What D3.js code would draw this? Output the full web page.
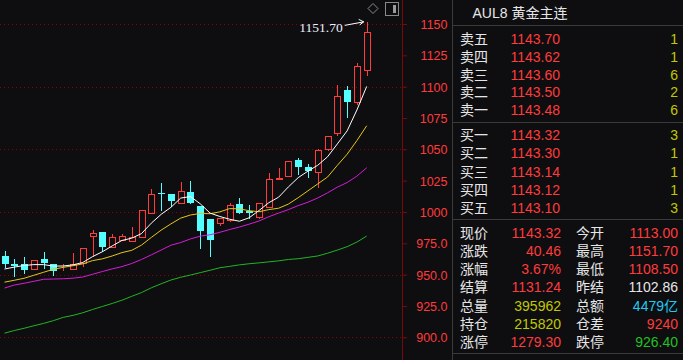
<!DOCTYPE html>
<html><head><meta charset="utf-8">
<script src="https://cdn.jsdelivr.net/npm/d3@7"></script>
<style>
html,body{margin:0;padding:0;background:#0e0e11;overflow:hidden}
svg{display:block}
</style></head><body>
<svg id="c" width="683" height="360"></svg>
<script>
// ---------- data ----------
const opens  = [964.9, 958.5, 958.5, 954.3, 962.5, 958.5, 956.5, 954.3, 959.0, 980.6, 984.0, 972.3, 977.6, 977.1, 979.8, 999.4, 1015.0, 1014.3, 1006.9, 1015.9, 1004.8, 994.4, 991.0, 993.6, 1006.4, 1000.8, 996.2, 1004.2, 1026.3, 1028.9, 1041.5, 1036.1, 1032.1, 1050.0, 1063.3, 1097.3, 1087.5, 1113.0];
const highs  = [968.6, 962.5, 963.8, 961.6, 968.1, 958.6, 958.8, 967.0, 971.0, 985.6, 984.0, 982.2, 982.2, 987.8, 1001.3, 1018.3, 1023.1, 1014.3, 1023.9, 1024.7, 1004.8, 994.4, 995.2, 1007.4, 1011.4, 1005.6, 1006.9, 1031.3, 1034.8, 1040.7, 1043.1, 1038.3, 1050.3, 1060.6, 1101.3, 1100.5, 1119.1, 1151.7];
const lows   = [955.0, 948.3, 950.3, 954.3, 954.5, 949.1, 952.9, 954.3, 956.3, 964.3, 968.3, 972.3, 977.4, 975.8, 979.0, 999.0, 1000.8, 1004.2, 1006.9, 1006.4, 970.4, 964.3, 988.8, 992.2, 998.4, 994.1, 994.4, 1004.2, 1026.0, 1028.9, 1029.5, 1027.3, 1019.4, 1048.9, 1060.6, 1074.8, 1085.4, 1108.5];
const closes = [958.5, 956.9, 953.7, 961.4, 959.5, 952.7, 957.2, 958.2, 971.0, 983.0, 972.3, 979.8, 980.6, 979.8, 1001.3, 1014.1, 1014.3, 1009.0, 1016.5, 1007.4, 985.1, 977.6, 995.2, 1005.6, 999.4, 999.0, 1006.9, 1026.1, 1027.4, 1040.7, 1036.1, 1032.9, 1049.5, 1060.6, 1092.5, 1088.0, 1116.5, 1143.32];

const ma5  = [954.5, 956.0, 957.3, 958.0, 958.0, 956.8, 956.9, 957.8, 959.7, 964.4, 968.3, 972.9, 977.3, 979.1, 982.8, 991.1, 998.1, 1003.7, 1011.1, 1012.3, 1006.5, 999.1, 996.4, 994.2, 992.6, 995.4, 1001.2, 1007.4, 1011.8, 1020.0, 1027.4, 1032.6, 1037.3, 1044.0, 1054.3, 1064.7, 1081.4, 1100.2];
const ma10 = [944.0, 945.5, 947.1, 949.5, 951.9, 954.3, 955.8, 957.1, 958.6, 961.2, 962.6, 964.9, 967.6, 969.4, 973.6, 979.7, 985.5, 990.5, 995.1, 997.6, 998.8, 998.6, 1000.1, 1002.7, 1002.5, 1001.0, 1000.2, 1001.9, 1003.0, 1006.3, 1011.4, 1016.9, 1022.4, 1027.9, 1037.2, 1046.1, 1057.0, 1068.8];
const ma20 = [939.3, 941.7, 943.1, 944.7, 946.3, 946.5, 946.7, 947.2, 948.1, 950.3, 952.5, 954.6, 956.4, 958.9, 962.1, 965.8, 969.6, 973.5, 975.6, 978.5, 980.7, 981.8, 983.8, 986.0, 988.0, 990.3, 992.8, 996.2, 999.1, 1001.9, 1005.1, 1007.8, 1011.2, 1015.3, 1019.8, 1023.5, 1028.6, 1035.3];
const ma60 = [903.3, 905.4, 907.2, 909.2, 911.1, 913.3, 915.9, 917.5, 919.6, 922.2, 924.6, 927.0, 929.6, 932.7, 935.7, 939.5, 942.7, 945.7, 947.9, 949.7, 951.6, 953.5, 955.5, 956.6, 957.8, 958.7, 959.4, 960.2, 961.0, 962.1, 962.7, 963.8, 964.9, 967.1, 969.6, 972.3, 976.0, 980.8];

const tickValues = [900, 925, 950, 975, 1000, 1025, 1050, 1075, 1100, 1125, 1150];
const gridValues = [900, 950, 1000, 1050, 1100, 1150];
const highLabel = "1151.70";

const title = "AUL8 黄金主连";
const sellLabels = ["卖五", "卖四", "卖三", "卖二", "卖一"];
const sellPrices = ["1143.70", "1143.62", "1143.60", "1143.50", "1143.48"];
const sellVols   = ["1", "1", "6", "2", "6"];
const buyLabels  = ["买一", "买二", "买三", "买四", "买五"];
const buyPrices  = ["1143.32", "1143.30", "1143.14", "1143.12", "1143.10"];
const buyVols    = ["3", "1", "1", "1", "3"];
const statLabelsL = ["现价", "涨跌", "涨幅", "结算", "总量", "持仓", "涨停"];
const statValuesL = ["1143.32", "40.46", "3.67%", "1131.24", "395962", "215820", "1279.30"];
const statLabelsR = ["今开", "最高", "最低", "昨结", "总额", "仓差", "跌停"];
const statValuesR = ["1113.00", "1151.70", "1108.50", "1102.86", "4479亿", "9240", "926.40"];

// ---------- styles ----------
const BG = "#0e0e11", RED = "#ff3b3b", CYAN = "#54ffff", TXT = "#e6e6e6";
const VOLC = "#c0c800", GRID = "#8b0000", AXIS = "#7a0a0a", SEP = "#3a3a3a";
const colL = [RED, RED, RED, RED, VOLC, VOLC, RED];
const colR = [RED, RED, RED, TXT, "#22c8f0", RED, "#22c022"];
const NUMF = "'Liberation Sans', Arial, sans-serif";
const CJKF = "'Liberation Sans', 'Noto Sans CJK SC', sans-serif";

const svg = d3.select("#c");
svg.append("rect").attr("width", 683).attr("height", 360).attr("fill", BG);

const x = d3.scalePoint().domain(d3.range(opens.length)).range([4.5, 366.7]);
const y = d3.scaleLinear().domain([900, 1150]).range([337.3, 24]);

// gridlines
svg.append("g").selectAll("line").data(gridValues).join("line")
  .attr("x1", 0).attr("x2", 407)
  .attr("y1", d => Math.round(y(d)) + 0.5).attr("y2", d => Math.round(y(d)) + 0.5)
  .attr("stroke", GRID).attr("stroke-dasharray", "1,3");

// axis
const AX = 402;
svg.append("line").attr("x1", AX + 0.5).attr("x2", AX + 0.5).attr("y1", 0).attr("y2", 360)
  .attr("stroke", AXIS);
const fmt = d => d >= 1000 ? d3.format("d")(d) : d3.format(".1f")(d);
const ax = svg.append("g").attr("transform", `translate(${AX},0)`)
  .call(d3.axisRight(y).tickValues(tickValues).tickSize(5).tickFormat(fmt));
ax.select(".domain").remove();
ax.selectAll(".tick line").attr("stroke", AXIS);
ax.selectAll(".tick text").attr("text-anchor", "end").attr("x", 45.5).attr("dy", "0.35em")
  .attr("fill", RED).style("font-family", NUMF).style("font-size", "12.5px");

// candles
const cg = svg.append("g");
opens.forEach((o, i) => {
  const c = closes[i], h = highs[i], l = lows[i];
  const cx = Math.round(x(i));
  const top = Math.round(y(Math.max(o, c))), bot = Math.round(y(Math.min(o, c)));
  if (c >= o) {
    if (top > Math.round(y(h))) cg.append("line").attr("x1", cx + 0.5).attr("x2", cx + 0.5)
      .attr("y1", Math.round(y(h))).attr("y2", top).attr("stroke", RED);
    if (Math.round(y(l)) > bot) cg.append("line").attr("x1", cx + 0.5).attr("x2", cx + 0.5)
      .attr("y1", bot).attr("y2", Math.round(y(l))).attr("stroke", RED);
    cg.append("rect").attr("x", cx - 3 + 0.5).attr("y", top + 0.5).attr("width", 6)
      .attr("height", Math.max(bot - top, 0)).attr("fill", "none").attr("stroke", RED);
  } else {
    cg.append("line").attr("x1", cx + 0.5).attr("x2", cx + 0.5)
      .attr("y1", Math.round(y(h))).attr("y2", Math.round(y(l))).attr("stroke", CYAN);
    cg.append("rect").attr("x", cx - 3).attr("y", top).attr("width", 7)
      .attr("height", Math.max(bot - top, 1)).attr("fill", CYAN);
  }
});

// moving averages
const line = d3.line().x((d, i) => x(i)).y(d => y(d));
[[ma60, "#22b422"], [ma20, "#d81bd8"], [ma10, "#e6c619"], [ma5, "#ffffff"]].forEach(([arr, col]) => {
  svg.append("path").datum(arr).attr("d", line).attr("fill", "none")
    .attr("stroke", col).attr("stroke-width", 1);
});

// high annotation
const hi = highs.length - 1;
const hx = x(hi), hy = y(highs[hi]);
svg.append("text").attr("x", hx - 24).attr("y", hy + 10).attr("text-anchor", "end")
  .attr("fill", "#eef2ff").style("font-family", "'Liberation Serif', 'DejaVu Serif', serif")
  .style("font-size", "13.5px").text(highLabel);
svg.append("path")
  .attr("d", `M${hx - 22},${hy + 3.5} L${hx - 3},${hy} M${hx - 8},${hy - 2.5} L${hx - 3},${hy} L${hx - 7},${hy + 3}`)
  .attr("fill", "none").attr("stroke", "#ffffff").attr("stroke-width", 1);

// icons
svg.append("path").attr("d", "M373,3.5 L378,8.5 L373,13.5 L368,8.5 Z")
  .attr("fill", "none").attr("stroke", "#8a8a8a");
svg.append("rect").attr("x", 385.5).attr("y", 2.5).attr("width", 13).attr("height", 13)
  .attr("fill", "none").attr("stroke", "#8a8a8a");
svg.append("rect").attr("x", 393).attr("y", 5).attr("width", 3).attr("height", 8).attr("fill", "#9a9a9a");

// right panel separators
svg.append("line").attr("x1", 452.5).attr("x2", 452.5).attr("y1", 0).attr("y2", 360).attr("stroke", SEP);
[25.5, 122.5, 219.5, 353.5].forEach(v => svg.append("line").attr("x1", 453).attr("x2", 683)
  .attr("y1", v).attr("y2", v).attr("stroke", SEP));

function txt(xp, yc, s, col, font, anchor) {
  svg.append("text").attr("x", xp).attr("y", yc + 5).attr("text-anchor", anchor || "start")
    .attr("fill", col).style("font-family", font).style("font-size", "14px").text(s);
}
txt(472.5, 12.5, title, TXT, CJKF);

sellLabels.forEach((s, i) => {
  const yc = 39 + i * 17.8;
  txt(460, yc, s, TXT, CJKF);
  txt(510.5, yc, sellPrices[i], RED, NUMF);
  txt(678, yc, sellVols[i], VOLC, NUMF, "end");
});
buyLabels.forEach((s, i) => {
  const yc = 135 + i * 18.3;
  txt(460, yc, s, TXT, CJKF);
  txt(510.5, yc, buyPrices[i], RED, NUMF);
  txt(678, yc, buyVols[i], VOLC, NUMF, "end");
});
statLabelsL.forEach((s, i) => {
  const yc = 233.3 + i * 18.05;
  txt(460, yc, s, TXT, CJKF);
  txt(561, yc, statValuesL[i], colL[i], NUMF, "end");
  txt(576, yc, statLabelsR[i], TXT, CJKF);
  txt(678, yc, statValuesR[i], colR[i], CJKF, "end");
});
</script>
</body></html>
